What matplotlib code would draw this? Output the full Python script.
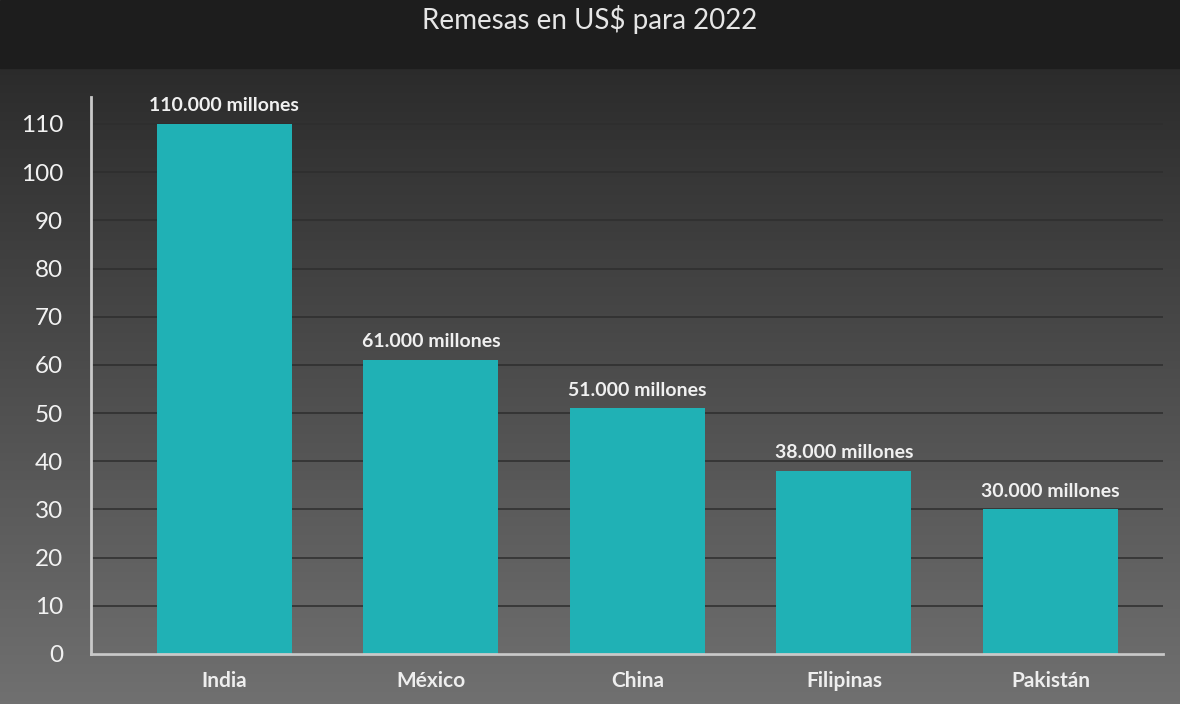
import matplotlib
matplotlib.use('Agg')
import matplotlib.pyplot as plt
import numpy as np

paises = ['India', 'México', 'China', 'Filipinas', 'Pakistán']
remesas = [110, 61, 51, 38, 30]  # miles de millones de US$
etiquetas = ['110.000 millones', '61.000 millones', '51.000 millones',
             '38.000 millones', '30.000 millones']
yticks = list(range(0, 111, 10))

plt.rcParams['font.family'] = ['Lato', 'DejaVu Sans']

W, H = 11.8, 7.04
fig = plt.figure(figsize=(W, H), dpi=100)

# fondo: banda oscura del titulo + degradado gris
bg = fig.add_axes([0, 0, 1, 1], zorder=0)
bg.set_axis_off()
grad = np.linspace(0, 1, 256).reshape(-1, 1)
top = np.array([0.17, 0.17, 0.17])
bottom = np.array([0.44, 0.44, 0.44])
img = top + (bottom - top) * grad[..., None]
img = img.reshape(256, 1, 3)
bg.imshow(img, aspect='auto', extent=[0, 1, 0, 1 - 68 / 704], origin='upper')
bg.add_patch(plt.Rectangle((0, 1 - 68 / 704), 1, 68 / 704, color='#1d1d1d'))
bg.set_xlim(0, 1)
bg.set_ylim(0, 1)
fig.text(0.5, 1 - 19 / 704, 'Remesas en US$ para 2022', ha='center', va='center',
         color='#e6e6e6', fontsize=20)

left, right = 91 / 1180, 1163 / 1180
bot, topy = 1 - 654 / 704, 1 - 97 / 704
ax = fig.add_axes([left, bot, right - left, topy - bot], zorder=1)
ax.patch.set_alpha(0)

x = np.arange(len(paises))
ax.bar(x, remesas, width=0.654, color='#20b1b5', zorder=3)
for xi, v, t in zip(x, remesas, etiquetas):
    ax.text(xi, v + 2.0, t, ha='center', va='bottom', color='#f0f0f0',
            fontsize=14, fontweight='bold')

ax.set_xlim(-0.646, 4.545)
ax.set_ylim(0, 115.6)
ax.set_yticks(yticks)
ax.set_xticks(x)
ax.set_xticklabels(paises)
ax.yaxis.grid(True, color='#2e2e2e', linewidth=1.1, zorder=1)
ax.tick_params(axis='y', length=0, pad=20, labelsize=17.5, labelcolor='#f2f2f2')
ax.tick_params(axis='x', length=0, pad=12, labelsize=15, labelcolor='#eeeeee')
for lbl in ax.get_xticklabels():
    lbl.set_fontweight('bold')
for s in ['top', 'right']:
    ax.spines[s].set_visible(False)
for s in ['left', 'bottom']:
    ax.spines[s].set_color('#c9c9c9')
    ax.spines[s].set_linewidth(2)
ax.spines['bottom'].set_zorder(4)

fig.savefig('out.png', dpi=100)
